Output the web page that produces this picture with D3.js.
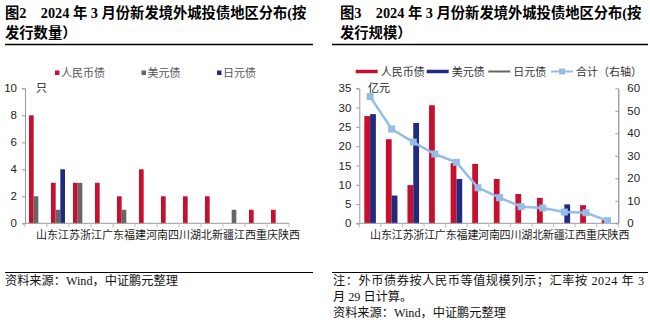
<!DOCTYPE html>
<html><head><meta charset="utf-8">
<script src="https://cdn.jsdelivr.net/npm/d3@7/dist/d3.min.js"></script>
<style>body{margin:0;background:#fff} svg{display:block}</style></head>
<body>
<svg id="c" width="650" height="323"></svg>
<script>
const categories = ["山东","江苏","浙江","广东","福建","河南","四川","湖北","新疆","江西","重庆","陕西"];
const countSeriesNames = ["人民币债","美元债","日元债"];
const countCNY = [8,3,3,3,2,4,2,2,2,0,1,1];
const countUSD = [2,1,3,0,1,0,0,0,0,1,0,0];
const countJPY = [0,4,0,0,0,0,0,0,0,0,0,0];
const sizeSeriesNames = ["人民币债","美元债","日元债","合计（右轴）"];
const sizeCNY = [27.8,21.8,9.9,30.6,15.6,15.4,11.5,7.6,6.6,0,4.7,0.8];
const sizeUSD = [28.3,7.2,26.0,0,11.5,0,0,0,0,4.9,0,0];
const sizeTotal = [56.3,41.9,36.1,30.8,27.1,15.8,11.4,7.4,6.8,5.0,4.7,1.2];
const countTicks = [0,2,4,6,8,10];
const sizeTicksLeft = [0,5,10,15,20,25,30,35];
const sizeTicksRight = [0,10,20,30,40,50,60];

const RED = "#C8102E", NAVY = "#202A80", GRAY = "#666666", LBLUE = "#95BDE6", AX = "#999999";
const SANS = "'Liberation Sans','Noto Sans CJK SC',sans-serif";
const CJK = "'Liberation Serif','Noto Sans CJK SC',serif";
const svg = d3.select("#c");

// ---------- Titles, rules, notes ----------
function title(x, lines) {
  lines.forEach((t, i) => svg.append("text").attr("x", x).attr("y", 18 + i * 20)
    .attr("font-family", CJK).attr("font-weight", "bold").attr("font-size", 14.3).attr("fill", "#000").text(t));
}
title(5, ["图2　2024 年 3 月份新发境外城投债地区分布(按", "发行数量）"]);
title(340, ["图3　2024 年 3 月份新发境外城投债地区分布(按", "发行规模）"]);
[[5,313],[332,648]].forEach(([a,b]) => {
  svg.append("line").attr("x1",a).attr("x2",b).attr("y1",44.5).attr("y2",44.5).attr("stroke","#000").attr("stroke-width",1.6);
  svg.append("line").attr("x1",a).attr("x2",b).attr("y1",272.5).attr("y2",272.5).attr("stroke","#000").attr("stroke-width",1.2);
});
function note(x, y, t) {
  svg.append("text").attr("x", x).attr("y", y).attr("font-family", CJK).attr("font-size", 12.2).attr("fill", "#111").text(t);
}
note(5, 285, "资料来源：Wind，中证鹏元整理");
svg.append("text").attr("x", 333).attr("y", 285).attr("font-family", CJK).attr("font-size", 12.2).attr("fill", "#111")
  .attr("textLength", 311).attr("lengthAdjust", "spacing").text("注：外币债券按人民币等值规模列示；汇率按 2024 年 3");
note(333, 301, "月 29 日计算。");
note(333, 317, "资料来源：Wind，中证鹏元整理");

// ---------- helpers ----------
function styleAxis(g) {
  g.selectAll("path.domain").attr("stroke", AX);
  g.selectAll(".tick line").attr("stroke", AX);
  g.selectAll(".tick text").attr("fill", "#222").attr("font-family", SANS).attr("font-size", 11.5);
}
function catAxis(x, y0) {
  const g = svg.append("g").attr("transform", `translate(0,${y0})`);
  g.append("line").attr("x1", x.range()[0]).attr("x2", x.range()[1]).attr("stroke", AX);
  g.selectAll("line.t").data(d3.range(categories.length + 1)).join("line").attr("class","t")
    .attr("x1", i => x.range()[0] + i * x.step()).attr("x2", i => x.range()[0] + i * x.step())
    .attr("y1", 0).attr("y2", 4).attr("stroke", "#bbb");
  g.selectAll("text").data(categories).join("text")
    .attr("x", d => x(d) + x.bandwidth() / 2).attr("y", 8).attr("dy", "0.71em")
    .attr("font-family", SANS).attr("font-size", 11).attr("fill", "#222").text(d => d);
}

// ---------- Chart 1: count ----------
{
  const x = d3.scaleBand().domain(categories).range([25, 289]);
  const inner = d3.scaleBand().domain(countSeriesNames).range([4, 18]);
  const y = d3.scaleLinear().domain([0, 10]).range([223.3, 88.3]);
  const data = [countCNY, countUSD, countJPY];
  const colors = [RED, GRAY, NAVY];
  const gy = svg.append("g").attr("transform", "translate(25,0)")
    .call(d3.axisLeft(y).tickValues(countTicks).tickSize(3).tickPadding(5));
  styleAxis(gy);
  data.forEach((vals, s) => {
    svg.append("g").selectAll("rect").data(vals).join("rect")
      .attr("x", (d, i) => x(categories[i]) + inner(countSeriesNames[s]))
      .attr("width", inner.bandwidth())
      .attr("y", d => y(d)).attr("height", d => y(0) - y(d))
      .attr("fill", colors[s]);
  });
  catAxis(x, 223.3);
  svg.append("text").attr("x", 36).attr("y", 92).attr("font-family", SANS).attr("font-size", 11).attr("fill", "#222").text("只");
  // legend
  const lg = svg.append("g");
  const lx = [55, 141.5, 217];
  countSeriesNames.forEach((n, i) => {
    lg.append("rect").attr("x", lx[i]).attr("y", 70.5).attr("width", 4.5).attr("height", 4.5).attr("fill", colors[i]);
    lg.append("text").attr("x", lx[i] + 6).attr("y", 77).attr("font-family", SANS).attr("font-size", 11).attr("fill", "#555").text(n);
  });
}

// ---------- Chart 2: size ----------
{
  const x = d3.scaleBand().domain(categories).range([359.3, 618.3]);
  const inner = d3.scaleBand().domain(["人民币债","美元债"]).range([5, x.bandwidth() - 5]);
  const y = d3.scaleLinear().domain([0, 35]).range([223.3, 88.3]);
  const y2 = d3.scaleLinear().domain([0, 60]).range([223.3, 88.3]);
  const gy = svg.append("g").attr("transform", "translate(359.3,0)")
    .call(d3.axisLeft(y).tickValues(sizeTicksLeft).tickSize(3).tickPadding(5));
  styleAxis(gy);
  const gy2 = svg.append("g").attr("transform", "translate(618.3,0)")
    .call(d3.axisRight(y2).tickValues(sizeTicksRight).tickSizeInner(-3).tickSizeOuter(0).tickPadding(9));
  styleAxis(gy2);
  gy2.selectAll("path.domain").attr("stroke", "#777");
  [[sizeCNY, "人民币债", RED], [sizeUSD, "美元债", NAVY]].forEach(([vals, n, c]) => {
    svg.append("g").selectAll("rect").data(vals).join("rect")
      .attr("x", (d, i) => x(categories[i]) + inner(n))
      .attr("width", inner.bandwidth())
      .attr("y", d => y(d)).attr("height", d => y(0) - y(d))
      .attr("fill", c);
  });
  catAxis(x, 223.3);
  const cx = (d, i) => x(categories[i]) + x.bandwidth() / 2;
  svg.append("path").datum(sizeTotal)
    .attr("d", d3.line().x(cx).y(d => y2(d)))
    .attr("fill", "none").attr("stroke", LBLUE).attr("stroke-width", 2.5);
  svg.append("g").selectAll("rect").data(sizeTotal).join("rect")
    .attr("x", (d, i) => cx(d, i) - 3.5).attr("y", d => y2(d) - 3.5)
    .attr("width", 7).attr("height", 7).attr("fill", LBLUE);
  svg.append("text").attr("x", 368).attr("y", 92).attr("font-family", SANS).attr("font-size", 11).attr("fill", "#222").text("亿元");
  // legend
  const items = [[355.7, RED, 3.5, false], [426.7, NAVY, 3.5, false], [488.3, GRAY, 2, false], [551, LBLUE, 2, true]];
  sizeSeriesNames.forEach((n, i) => {
    const [lx, c, w, m] = items[i];
    svg.append("line").attr("x1", lx).attr("x2", lx + 22).attr("y1", 71.5).attr("y2", 71.5).attr("stroke", c).attr("stroke-width", w);
    if (m) svg.append("rect").attr("x", lx + 8).attr("y", 68.5).attr("width", 6).attr("height", 6).attr("fill", c);
    svg.append("text").attr("x", lx + 25).attr("y", 75.5).attr("font-family", SANS).attr("font-size", 11).attr("fill", "#333").text(n);
  });
}
</script>
</body></html>
